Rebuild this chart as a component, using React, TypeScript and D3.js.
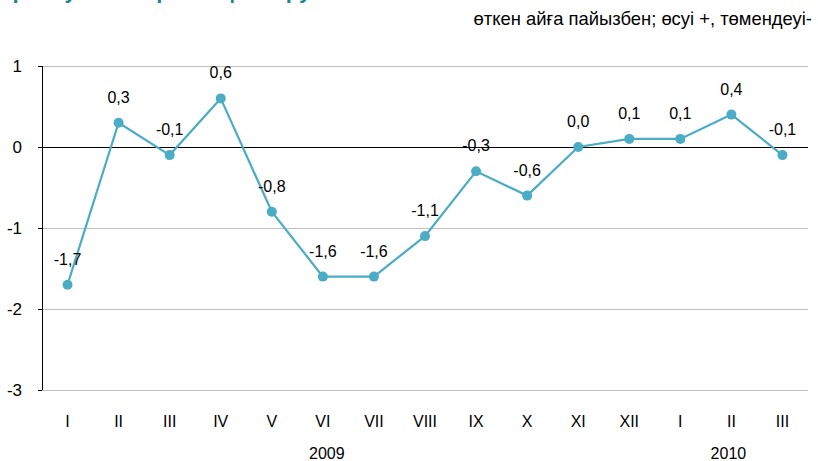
import React from "react";
import * as d3 from "d3";

const months = ["I", "II", "III", "IV", "V", "VI", "VII", "VIII", "IX", "X", "XI", "XII", "I", "II", "III"];
const values = [-1.7, 0.3, -0.1, 0.6, -0.8, -1.6, -1.6, -1.1, -0.3, -0.6, 0.0, 0.1, 0.1, 0.4, -0.1];
const yTicks = [1, 0, -1, -2, -3];
const years = [
  { label: "2009", at: 5, shift: 4 },
  { label: "2010", at: 13, shift: -3 },
];
const titleText = "Тұтыну бағаларының өзгеруі";
const subtitleText = "өткен айға пайызбен; өсуі +, төмендеуі-";

const W = 818;
const H = 461;
const left = 42;
const right = 808;
const top = 66;
const bottom = 390;
const lineColor = "#4BACC6";
const font = "Arial, 'Liberation Sans', sans-serif";

export default function App() {
  const x = d3
    .scaleBand<number>()
    .domain(months.map((_, i) => i))
    .range([left, right]);
  const y = d3.scaleLinear().domain([-3, 1]).range([bottom, top]);
  const cx = (i: number) => (x(i) as number) + x.bandwidth() / 2;
  const line = d3
    .line<number>()
    .x((_, i) => cx(i))
    .y((d) => y(d));
  const fmt = (v: number) => v.toFixed(1).replace(".", ",");

  return (
    <svg
      width={W}
      height={H}
      style={{ position: "absolute", left: 0, top: 0, background: "#fff" }}
      fontFamily={font}
    >
      <text x={-4} y={-2} fill="#17868F" fontSize={22} fontWeight="bold">
        {titleText}
      </text>
      <text x={812} y={25} fill="#000" fontSize={18.4} textAnchor="end">
        {subtitleText}
      </text>
      {yTicks.map((t) => (
        <g key={t}>
          <line
            x1={left}
            x2={right}
            y1={y(t)}
            y2={y(t)}
            stroke={t === 0 ? "#000" : "#BFBFBF"}
            strokeWidth={1}
            shapeRendering="crispEdges"
          />
          <line x1={38} x2={left} y1={y(t)} y2={y(t)} stroke="#000" shapeRendering="crispEdges" />
          <text x={22} y={y(t) + 6} fontSize={17} textAnchor="end" fill="#000">
            {t}
          </text>
        </g>
      ))}
      <line x1={left} x2={left} y1={top} y2={bottom} stroke="#000" shapeRendering="crispEdges" />
      {months.map((m, i) => (
        <text key={i} x={cx(i)} y={427} fontSize={16} textAnchor="middle" fill="#000">
          {m}
        </text>
      ))}
      {years.map((yr) => (
        <text
          key={yr.label}
          x={cx(yr.at) + yr.shift}
          y={459}
          fontSize={16}
          textAnchor="middle"
          fill="#000"
        >
          {yr.label}
        </text>
      ))}
      <path d={line(values) || ""} fill="none" stroke={lineColor} strokeWidth={2.2} />
      {values.map((v, i) => (
        <g key={i}>
          <circle cx={cx(i)} cy={y(v)} r={5} fill={lineColor} />
          <text x={cx(i)} y={y(v) - 20} fontSize={16} textAnchor="middle" fill="#000">
            {fmt(v)}
          </text>
        </g>
      ))}
    </svg>
  );
}
